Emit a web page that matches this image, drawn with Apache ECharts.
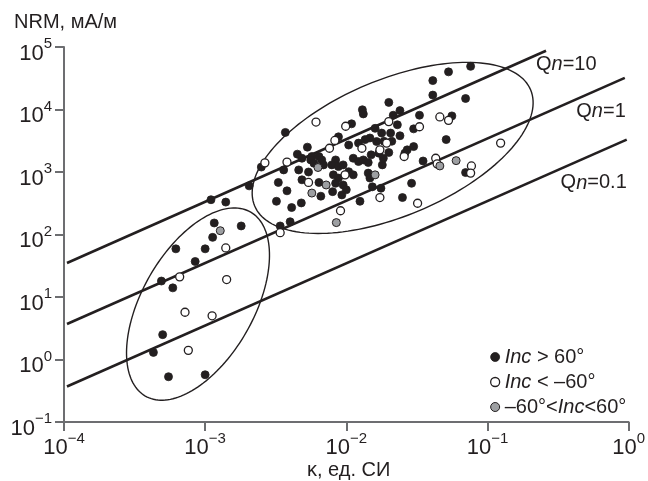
<!DOCTYPE html>
<html>
<head>
<meta charset="utf-8">
<script src="https://cdn.jsdelivr.net/npm/echarts@6/dist/echarts.min.js"></script>
<style>
html, body { margin: 0; padding: 0; background: #fff; }
#chart { width: 648px; height: 481px; }
</style>
</head>
<body>
<div id="chart"></div>
<script>
const FONT = '"Liberation Sans", Arial, sans-serif';
const INK = '#231f20';
const AXIS = '#6d6e71';

// [kappa (SI), NRM (mA/m)]
const incHigh = [
    [1.1e-3, 360], [1.4e-3, 330], [1.16e-3, 153], [1.8e-3, 137], [1.13e-3, 90], [6.2e-4, 59],
    [1.0e-3, 59], [8.5e-4, 37], [4.9e-4, 18], [5.9e-4, 14], [5.0e-4, 2.5], [4.3e-4, 1.3],
    [5.5e-4, 0.53], [1.0e-3, 0.57],
    [7.6e-2, 4.9e4], [5.3e-2, 4.0e4], [4.1e-2, 2.9e4], [4.1e-2, 1.7e4], [7.0e-2, 1.5e4], [2.0e-2, 1.3e4],
    [2.4e-2, 9600], [2.15e-2, 8100], [3.3e-2, 8100], [5.6e-2, 7900], [3.0e-2, 4900], [2.3e-2, 5700],
    [5.1e-2, 3300], [2.4e-2, 3800], [2.06e-2, 4200], [1.78e-2, 4200], [2.1e-2, 3100], [1.85e-2, 3100],
    [3.0e-2, 2550], [2.7e-2, 2260], [2.6e-2, 2000], [2.0e-2, 2050], [1.8e-2, 1300], [3.5e-2, 1500],
    [7.0e-2, 980], [2.9e-2, 660], [1.76e-2, 550], [2.5e-2, 390], [1.3e-2, 9900], [1.32e-2, 8500],
    [1.09e-2, 5900], [1.6e-2, 5000], [1.47e-2, 3500], [1.64e-2, 3070], [1.22e-2, 2900], [1.04e-2, 2700],
    [1.36e-2, 3300], [8.8e-3, 3650], [1.5e-2, 1880], [1.7e-2, 2000], [1.83e-2, 1660], [1.12e-2, 1660],
    [1.22e-2, 1470], [1.32e-2, 1560], [1.43e-2, 1420], [8.4e-3, 1560], [7.9e-3, 1300], [8.8e-3, 1220],
    [8.1e-3, 900], [8.8e-3, 800], [1.04e-2, 1010], [8.4e-3, 660], [9.5e-3, 620], [1.43e-2, 960],
    [1.47e-2, 800], [1.53e-2, 580], [1.25e-2, 340], [9.3e-3, 430], [1.12e-2, 900], [3.7e-3, 4300],
    [2.5e-3, 1200], [3.6e-3, 1080], [5.3e-3, 2500], [4.5e-3, 1930], [4.85e-3, 1660], [5.7e-3, 1770],
    [6.4e-3, 1770], [5.6e-3, 1560], [5.9e-3, 1380], [6.7e-3, 1560], [6.9e-3, 1300], [9.5e-3, 1300],
    [3.3e-3, 680], [3.8e-3, 500], [4.85e-3, 750], [6.4e-3, 680], [8.0e-3, 485], [6.6e-3, 410],
    [3.2e-3, 340], [4.1e-3, 270], [4.8e-3, 320], [4.0e-3, 160], [3.4e-3, 137], [2.05e-3, 600],
    [1.0e-2, 520], [4.6e-3, 1080], [5.4e-3, 1000]
];
const incLow = [
    [1.4e-3, 61], [6.6e-4, 21], [1.42e-3, 19], [7.2e-4, 5.7], [1.12e-3, 5.0], [7.6e-4, 1.4],
    [6.1e-3, 6300], [9.9e-3, 5400], [2.65e-3, 1400], [3.8e-3, 1440], [7.6e-3, 2400], [8.3e-3, 3200],
    [5.4e-3, 680], [9.1e-3, 240], [3.4e-3, 107], [9.8e-3, 900], [1.29e-2, 2400], [1.93e-2, 2900],
    [1.73e-2, 2260], [2.57e-2, 1770], [2.0e-2, 6400], [3.3e-2, 5300], [4.6e-2, 7600], [5.3e-2, 6700],
    [0.124, 2900], [4.3e-2, 1660], [4.4e-2, 1350], [7.7e-2, 1250], [7.6e-2, 960], [1.73e-2, 390],
    [3.2e-2, 316]
];
const incMid = [
    [1.28e-3, 115], [6.3e-3, 1180], [7.2e-3, 620], [5.7e-3, 460], [8.5e-3, 155], [1.6e-2, 900],
    [4.6e-2, 1250], [6.0e-2, 1520]
];
const legendNames = ['Inc > 60°', 'Inc < –60°', '–60°<Inc<60°'];

// Qn reference lines, ends
const qnNames = ['10', '1', '0.1'];
const qnStart = [[1.05e-4, 35], [1.05e-4, 3.7], [1.05e-4, 0.37]];
const qnEnd = [[0.26, 8.7e4], [0.94, 3.2e4], [0.97, 3.3e3]];
const qnLabelAt = [[0.362, 5.2e4], [0.638, 9200], [0.566, 668]];

// outlined groups: centre, then semi-axes in decades (log k, log NRM)
const ellipseCenters = [[8.9e-4, 7.7], [0.0213, 2430]];
const ellipseMajor = [[0.3735, 1.471], [0.978, 0.926]];
const ellipseMinor = [[0.342, -0.449], [0.1845, -1.008]];

function powLabel(v) {
    let e = Math.round(Math.log10(v));
    return '{b|10}{s|' + (e < 0 ? '−' + (-e) : e) + '}';
}
const powRich = {
    b: { fontSize: 22, lineHeight: 28, verticalAlign: 'bottom', fontFamily: FONT, color: INK },
    s: { fontSize: 15, lineHeight: 15, verticalAlign: 'top', fontFamily: FONT, color: INK }
};

function axisBase() {
    return {
        type: 'log',
        logBase: 10,
        axisLine: { show: true, lineStyle: { color: AXIS, width: 2 } },
        axisTick: { show: true, length: 9, lineStyle: { color: AXIS, width: 2 } },
        splitLine: { show: false },
        minorTick: { show: false },
        axisLabel: { formatter: powLabel, rich: powRich, showMinLabel: true, showMaxLabel: true }
    };
}

let xAxis = axisBase();
xAxis.min = 1e-4;
xAxis.max = 1;
xAxis.axisLabel.margin = 9;

let yAxis = axisBase();
yAxis.min = 0.1;
yAxis.max = 1e5;
yAxis.splitNumber = 6;
yAxis.axisLabel.margin = 12;
yAxis.axisLabel.padding = [7, 0, 0, 0];

let series = [];

ellipseCenters.forEach((c, i) => {
    series.push({
        type: 'custom',
        silent: true,
        z: 1,
        data: [[c[0], c[1], i]],
        encode: { x: 0, y: 1 },
        renderItem: (params, api) => {
            let idx = api.value(2);
            let lx = Math.log10(api.value(0));
            let ly = Math.log10(api.value(1));
            let a = ellipseMajor[idx], b = ellipseMinor[idx];
            let pts = [];
            for (let s = 0; s < 160; s++) {
                let t = s / 160 * Math.PI * 2;
                let px = lx + Math.cos(t) * a[0] + Math.sin(t) * b[0];
                let py = ly + Math.cos(t) * a[1] + Math.sin(t) * b[1];
                pts.push(api.coord([Math.pow(10, px), Math.pow(10, py)]));
            }
            return {
                type: 'polygon',
                shape: { points: pts },
                style: { fill: 'none', stroke: INK, lineWidth: 1.4 }
            };
        }
    });
});

qnNames.forEach((q, i) => {
    series.push({
        type: 'line',
        silent: true,
        z: 2,
        symbol: 'none',
        data: [qnStart[i], qnEnd[i]],
        lineStyle: { color: INK, width: 2.6 }
    });
});

series.push({
    type: 'scatter',
    silent: true,
    z: 2,
    symbolSize: 1,
    itemStyle: { color: 'rgba(0,0,0,0)', opacity: 1 },
    data: qnLabelAt.map((p, i) => [p[0], p[1], i]),
    label: {
        show: true,
        position: 'inside',
        color: INK,
        opacity: 1,
        formatter: p => '{r|Q}{i|n}{r|=' + qnNames[p.data[2]] + '}',
        rich: {
            r: { fontSize: 20, fontFamily: FONT, color: INK },
            i: { fontSize: 20, fontFamily: FONT, color: INK, fontStyle: 'italic' }
        }
    }
});

const markStyles = [
    { color: INK, borderColor: INK, borderWidth: 0.8, opacity: 1 },
    { color: '#ffffff', borderColor: INK, borderWidth: 1.3, opacity: 1 },
    { color: '#9d9fa2', borderColor: INK, borderWidth: 1, opacity: 1 }
];
[incHigh, incLow, incMid].forEach((d, i) => {
    series.push({
        type: 'scatter',
        name: legendNames[i],
        z: 3 + i,
        symbol: 'circle',
        symbolSize: 8,
        data: d,
        itemStyle: markStyles[i]
    });
});

const chart = echarts.init(document.getElementById('chart'));
chart.setOption({
    animation: false,
    backgroundColor: '#fff',
    grid: { left: 64, right: 16, top: 47, bottom: 59 },
    xAxis: xAxis,
    yAxis: yAxis,
    legend: {
        orient: 'vertical',
        left: 485,
        top: 342,
        itemWidth: 9,
        itemHeight: 9,
        itemGap: 5,
        icon: 'circle',
        selectedMode: false,
        data: legendNames.map((n, i) => ({ name: n, itemStyle: markStyles[i] })),
        formatter: n => n.replace('Inc', '{i|Inc}'),
        textStyle: {
            fontFamily: FONT, fontSize: 20, lineHeight: 20, color: INK,
            rich: { i: { fontFamily: FONT, fontSize: 20, lineHeight: 20, color: INK, fontStyle: 'italic' } }
        }
    },
    graphic: [
        { type: 'text', left: 14, top: 12, style: { text: 'NRM, мА/м', font: '20px ' + FONT, fill: INK } },
        { type: 'text', left: 307, top: 460, style: { text: 'κ, ед. СИ', font: '20px ' + FONT, fill: INK } }
    ],
    series: series
});
</script>
</body>
</html>
